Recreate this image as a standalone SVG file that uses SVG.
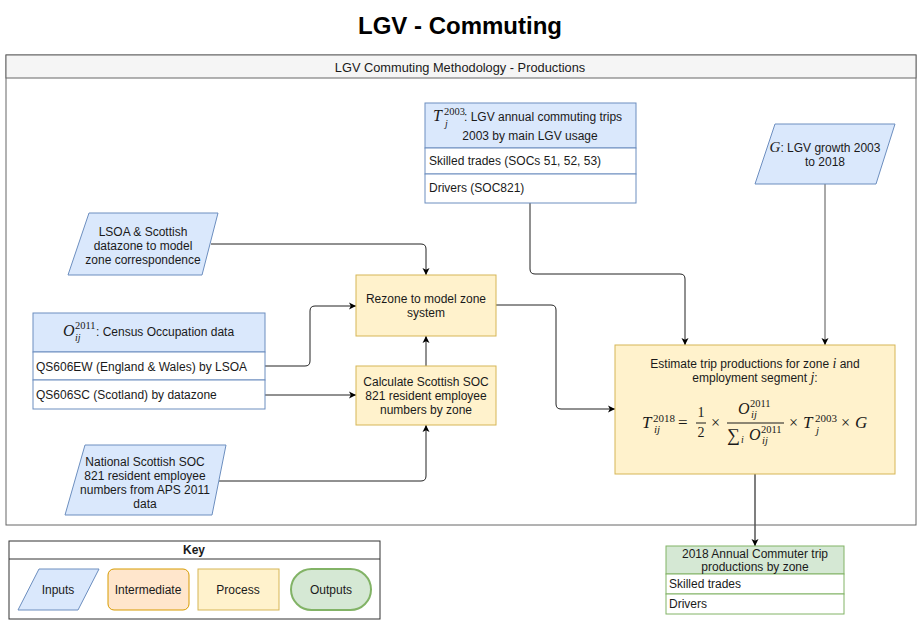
<svg xmlns="http://www.w3.org/2000/svg" width="921" height="625" viewBox="0 0 921 625">
<defs>
<style>
.t{font-family:"Liberation Sans",Arial,sans-serif;font-size:12px;fill:#1a1a1a}
.m{font-family:"Liberation Serif","Times New Roman",serif;font-style:italic;fill:#1a1a1a}
.mu{font-family:"Liberation Serif","Times New Roman",serif;fill:#1a1a1a}
.inp{fill:#dae8fc;stroke:#6c8ebf;stroke-width:1}
.row{fill:#ffffff;stroke:#6c8ebf;stroke-width:1}
.proc{fill:#fff2cc;stroke:#d6b656;stroke-width:1}
.outh{fill:#d5e8d4;stroke:#82b366;stroke-width:1}
.outr{fill:#ffffff;stroke:#82b366;stroke-width:1}
.c{fill:none;stroke:#222;stroke-width:1}
</style>
<marker id="arr" markerWidth="8" markerHeight="8" refX="7" refY="4" orient="auto" markerUnits="userSpaceOnUse">
<path d="M0,0.5 L7,4 L0,7.5 L1.8,4 z" fill="#000"/>
</marker>
</defs>
<rect width="921" height="625" fill="#ffffff"/>
<text x="460" y="34" text-anchor="middle" style="font-family:'Liberation Sans',Arial,sans-serif;font-size:24px;font-weight:bold;fill:#000">LGV - Commuting</text>

<g id="container">
<rect x="6" y="55" width="910" height="470" fill="#ffffff" stroke="#666" stroke-width="1"/>
<rect x="6" y="55" width="910" height="23" fill="#f5f5f5" stroke="#666" stroke-width="1"/>
<text class="t" x="460" y="72" text-anchor="middle" style="font-size:12.8px">LGV Commuting Methodology - Productions</text>
</g>

<g id="connectors">
<path class="c" d="M211,244 H421 Q426,244 426,249 V275" marker-end="url(#arr)"/>
<path class="c" d="M265,366 H305 Q310,366 310,361 V311 Q310,306 315,306 H356" marker-end="url(#arr)"/>
<path class="c" d="M265,395 H356" marker-end="url(#arr)"/>
<path class="c" d="M426,366 V336" marker-end="url(#arr)"/>
<path class="c" d="M219,481 H421 Q426,481 426,476 V425" marker-end="url(#arr)"/>
<path class="c" d="M496,305 H551 Q556,305 556,310 V404 Q556,409 561,409 H615" marker-end="url(#arr)"/>
<path class="c" d="M530,203 V269 Q530,274 535,274 H680 Q685,274 685,279 V345" marker-end="url(#arr)"/>
<path class="c" d="M825,184 V345" style="stroke:#555" marker-end="url(#arr)"/>
<path class="c" d="M755,474 V546" style="stroke:#555;stroke-width:1.5" marker-end="url(#arr)"/>
</g>

<g id="node-T">
<rect class="inp" x="425" y="103" width="211" height="45"/>
<rect class="row" x="425" y="148" width="211" height="26"/>
<rect class="row" x="425" y="174" width="211" height="29"/>
<text class="m" x="433" y="121" font-size="16">T</text>
<text class="mu" x="444" y="115" font-size="10.5">2003</text>
<text class="m" x="445" y="127" font-size="10">j</text>
<text class="t" x="464" y="121">: LGV annual commuting trips</text>
<text class="t" x="530" y="140" text-anchor="middle">2003 by main LGV usage</text>
<text class="t" x="429" y="165">Skilled trades (SOCs 51, 52, 53)</text>
<text class="t" x="429" y="192">Drivers (SOC821)</text>
</g>

<g id="node-G">
<polygon class="inp" points="775,124 895,124 876,184 755,184"/>
<text x="825" y="152" text-anchor="middle"><tspan class="m" font-size="15">G</tspan><tspan class="t">: LGV growth 2003</tspan></text>
<text class="t" x="825" y="166" text-anchor="middle">to 2018</text>
</g>

<g id="node-LSOA">
<polygon class="inp" points="89,213 218,213 202,275 68,275"/>
<text class="t" x="143" y="236" text-anchor="middle">LSOA &amp; Scottish</text>
<text class="t" x="143" y="250" text-anchor="middle">datazone to model</text>
<text class="t" x="143" y="264" text-anchor="middle">zone correspondence</text>
</g>

<g id="node-O">
<rect class="inp" x="33" y="313" width="232" height="39"/>
<rect class="row" x="33" y="352" width="232" height="28"/>
<rect class="row" x="33" y="380" width="232" height="29"/>
<text class="m" x="63" y="336" font-size="16">O</text>
<text class="mu" x="75" y="329" font-size="10.5">2011</text>
<text class="m" x="75" y="341" font-size="10">ij</text>
<text class="t" x="96" y="336">: Census Occupation data</text>
<text class="t" x="36" y="371">QS606EW (England &amp; Wales) by LSOA</text>
<text class="t" x="36" y="399">QS606SC (Scotland) by datazone</text>
</g>

<g id="node-rezone">
<rect class="proc" x="356" y="275" width="140" height="61"/>
<text class="t" x="426" y="303" text-anchor="middle">Rezone to model zone</text>
<text class="t" x="426" y="317" text-anchor="middle">system</text>
</g>

<g id="node-calc">
<rect class="proc" x="356" y="366" width="140" height="59"/>
<text class="t" x="426" y="386" text-anchor="middle">Calculate Scottish SOC</text>
<text class="t" x="426" y="400" text-anchor="middle">821 resident employee</text>
<text class="t" x="426" y="414" text-anchor="middle">numbers by zone</text>
</g>

<g id="node-national">
<polygon class="inp" points="85,445 226,445 212,515 65,515"/>
<text class="t" x="145" y="466" text-anchor="middle">National Scottish SOC</text>
<text class="t" x="145" y="480" text-anchor="middle">821 resident employee</text>
<text class="t" x="145" y="494" text-anchor="middle">numbers from APS 2011</text>
<text class="t" x="145" y="508" text-anchor="middle">data</text>
</g>

<g id="node-estimate">
<rect class="proc" x="615" y="345" width="280" height="129"/>
<text x="755" y="368" text-anchor="middle"><tspan class="t">Estimate trip productions for zone </tspan><tspan class="m" font-size="14">i</tspan><tspan class="t"> and</tspan></text>
<text x="755" y="382" text-anchor="middle"><tspan class="t">employment segment </tspan><tspan class="m" font-size="14">j</tspan><tspan class="t">:</tspan></text>
<text class="m" x="642" y="428" font-size="17">T</text>
<text class="mu" x="653" y="422" font-size="11">2018</text>
<text class="m" x="654" y="433" font-size="11">ij</text>
<text class="mu" x="678" y="428" font-size="17">=</text>
<text class="mu" x="701" y="417" font-size="14" text-anchor="middle">1</text>
<line x1="696" y1="423" x2="706" y2="423" stroke="#1a1a1a" stroke-width="1"/>
<text class="mu" x="701" y="437" font-size="14" text-anchor="middle">2</text>
<text class="mu" x="711" y="428" font-size="16">×</text>
<text class="m" x="738" y="414" font-size="16">O</text>
<text class="mu" x="750" y="407" font-size="10.5">2011</text>
<text class="m" x="751" y="418" font-size="10.5">ij</text>
<line x1="727" y1="423" x2="784" y2="423" stroke="#1a1a1a" stroke-width="1"/>
<text class="mu" x="727" y="441" font-size="18">∑</text>
<text class="m" x="741" y="443" font-size="10">i</text>
<text class="m" x="749" y="440" font-size="16">O</text>
<text class="mu" x="761" y="433" font-size="10.5">2011</text>
<text class="m" x="762" y="444" font-size="10.5">ij</text>
<text class="mu" x="789" y="428" font-size="16">×</text>
<text class="m" x="803" y="428" font-size="17">T</text>
<text class="mu" x="815" y="422" font-size="11">2003</text>
<text class="m" x="816" y="434" font-size="11">j</text>
<text class="mu" x="841" y="428" font-size="16">×</text>
<text class="m" x="855" y="428" font-size="17">G</text>
</g>

<g id="node-output">
<rect class="outh" x="666" y="546" width="178" height="28"/>
<rect class="outr" x="666" y="574" width="178" height="20"/>
<rect class="outr" x="666" y="594" width="178" height="20"/>
<text class="t" x="755" y="558" text-anchor="middle">2018 Annual Commuter trip</text>
<text class="t" x="755" y="571" text-anchor="middle">productions by zone</text>
<text class="t" x="669" y="588">Skilled trades</text>
<text class="t" x="669" y="608">Drivers</text>
</g>

<g id="key">
<rect x="9" y="541" width="371" height="78" fill="#ffffff" stroke="#333" stroke-width="1"/>
<line x1="9" y1="559" x2="380" y2="559" stroke="#333" stroke-width="1"/>
<text class="t" x="194" y="554" text-anchor="middle" font-weight="bold">Key</text>
<polygon class="inp" points="39,569 99,569 78,610 18,610"/>
<text class="t" x="58" y="594" text-anchor="middle">Inputs</text>
<rect x="108" y="569" width="81" height="41" rx="6" fill="#ffe6cc" stroke="#d79b00" stroke-width="1"/>
<text class="t" x="148" y="594" text-anchor="middle">Intermediate</text>
<rect class="proc" x="198" y="569" width="81" height="41"/>
<text class="t" x="238" y="594" text-anchor="middle">Process</text>
<rect x="291" y="569" width="80" height="41" rx="20.5" fill="#d5e8d4" stroke="#82b366" stroke-width="2"/>
<text class="t" x="331" y="594" text-anchor="middle">Outputs</text>
</g>
</svg>
